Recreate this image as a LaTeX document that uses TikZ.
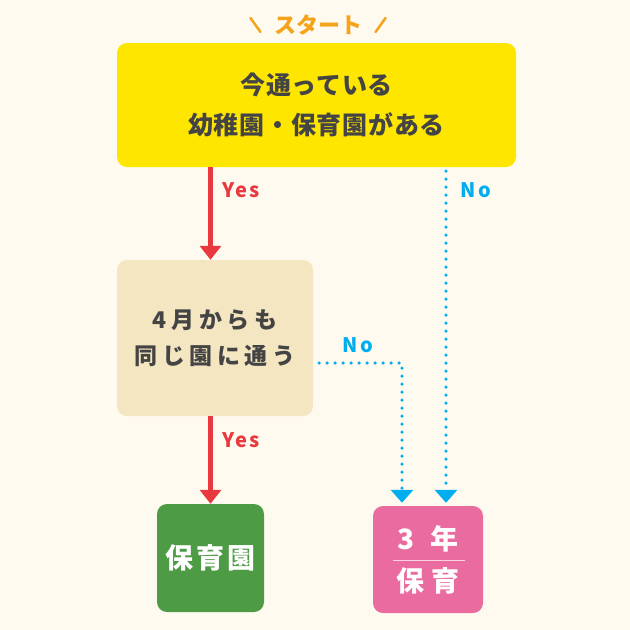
\documentclass[tikz,border=0pt]{standalone}
\usepackage{fontspec}
\usepackage{xcolor}
\usepackage{tikz}
\usetikzlibrary{positioning,calc,arrows.meta}
\newfontfamily\jpfont{Noto Sans CJK JP}
\definecolor{bgcream}{HTML}{FFFAF0}
\definecolor{startyellow}{HTML}{FFE600}
\definecolor{qbeige}{HTML}{F3E6C1}
\definecolor{hoikugreen}{HTML}{4E9B46}
\definecolor{sannenpink}{HTML}{E96B9F}
\definecolor{yesred}{HTML}{E8393E}
\definecolor{noblue}{HTML}{00AEEF}
\definecolor{textgray}{HTML}{444444}
\definecolor{startorange}{HTML}{F5A31A}
\tikzset{
    qbox/.style={rounded corners=10pt, inner sep=0pt, align=center, text=textgray,
        font=\jpfont\bfseries},
    endbox/.style={rounded corners=10pt, inner sep=0pt, align=center, text=white,
        font=\jpfont\bfseries\fontsize{28}{42}\selectfont},
    yesarrow/.style={draw=yesred, line width=5pt, -{Triangle[width=21pt,length=14pt]}},
    noarrow/.style={draw=noblue, line width=3.5pt, line cap=round,
        dash pattern=on 0pt off 8pt, -{Triangle[width=22pt,length=13pt]}, shorten >=3pt},
    yeslabel/.style={text=yesred, font=\jpfont\bfseries\fontsize{20}{20}\selectfont\addfontfeature{LetterSpace=12}},
    nolabel/.style={text=noblue, font=\jpfont\bfseries\fontsize{20}{20}\selectfont\addfontfeature{LetterSpace=12}},
    slash/.style={draw=startorange, line width=2.5pt, line cap=round}
}
\begin{document}
\begin{tikzpicture}[x=1pt, y=-1pt]
    \fill[bgcream] (0,0) rectangle (630,630);
    \useasboundingbox (0,0) rectangle (630,630);

    % Start
    \node[text=startorange, font=\jpfont\bfseries\fontsize{22}{22}\selectfont] (start) at (318,25) {スタート};
    \draw[slash] ([xshift=-20pt,yshift=7pt]start.west) -- ([xshift=-10pt,yshift=-7pt]start.west);
    \draw[slash] ([xshift=20pt,yshift=7pt]start.east) -- ([xshift=10pt,yshift=-7pt]start.east);

    % Boxes
    \node[qbox, fill=startyellow, minimum width=399pt, minimum height=124pt,
        font=\jpfont\bfseries\fontsize{25}{40}\selectfont\addfontfeature{LetterSpace=3}] (ima) at (316.5,105)
        {今通っている\\幼稚園・保育園がある};
    \node[qbox, fill=qbeige, minimum width=196pt, minimum height=156pt,
        font=\jpfont\bfseries\fontsize{23}{36}\selectfont\addfontfeature{LetterSpace=20}] (onaji) at (215,338)
        {4月からも\\同じ園に通う};
    \node[endbox, fill=hoikugreen, minimum width=107pt, minimum height=108pt,
        font=\jpfont\bfseries\fontsize{28}{28}\selectfont\addfontfeature{LetterSpace=12}] (hoikuen) at (210.5,558) {保育園};
    \node[endbox, fill=sannenpink, minimum width=110pt, minimum height=107pt] (sannen) at (428,559.5)
        {3\hspace{15pt}年\\保\hspace{7pt}育};
    \draw[white!70!sannenpink, line width=1.5pt] ([xshift=-35pt,yshift=-1pt]sannen.center) -- ([xshift=37pt,yshift=-1pt]sannen.center);

    % Yes
    \draw[yesarrow] (ima.south -| hoikuen) -- (onaji.north -| hoikuen);
    \draw[yesarrow] (onaji.south -| hoikuen) -- (hoikuen.north);
    \node[yeslabel] (yes1) at (241,190) {Yes};
    \node[yeslabel] (yes2) at (241,440) {Yes};

    % No
    \coordinate (in1) at ([xshift=18pt]sannen.north);
    \coordinate (in2) at ([xshift=-26pt]sannen.north);
    \draw[noarrow] ([yshift=-4pt]ima.south -| in1) -- (in1);
    \draw[noarrow] ([xshift=6pt,yshift=-25pt]onaji.east) -| (in2);
    \node[nolabel] (no1) at (476,190) {No};
    \node[nolabel] (no2) at (358,345) {No};
\end{tikzpicture}
\end{document}
